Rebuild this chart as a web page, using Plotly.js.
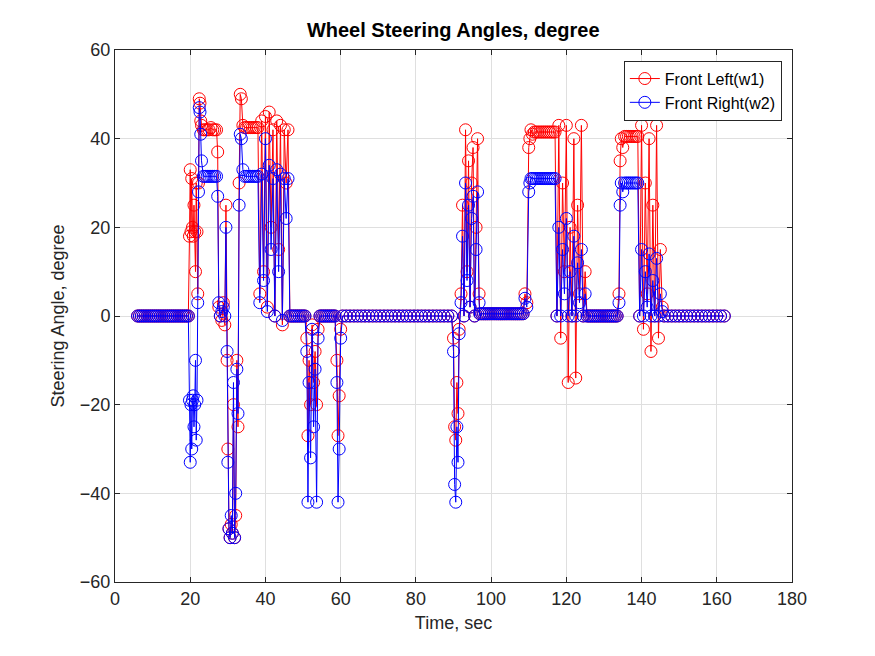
<!DOCTYPE html>
<html>
<head>
<meta charset="utf-8">
<script src="https://cdn.plot.ly/plotly-3.0.1.min.js"></script>
<style>body{margin:0;background:#fff}#chart{width:875px;height:656px}</style>
</head>
<body>
<div id="chart"></div>
<script>
// time samples (sec) and wheel angles (degree)
const timeSec = [
  6,6.5,7,7.5,8,8.5,9,9.5,10,10.5,11,11.5,12,12.5,13,13.5,14,14.5,15,15.5,16,16.5,17,17.5,18,18.5,19,19.5,
  19.8,20,20.2,20.4,20.6,20.8,21,21.2,21.4,21.6,21.8,
  22,22.2,22.4,22.6,22.8,23,
  23.5,24,24.5,25,25.5,26,26.5,27,
  27.3,27.6,28,28.4,28.8,29.2,29.5,29.8,
  30,30.3,30.6,30.9,31.2,31.5,31.8,32.1,32.4,32.7,
  33,33.3,33.6,34,
  34.5,35,35.5,36,36.5,37,37.5,38,
  38.5,39,39.5,40,40.5,41,41.5,42,42.5,43,43.5,44,44.5,45,45.5,46,
  46.5,47,47.5,48,48.5,49,49.5,50,50.5,
  51,51.3,51.6,52,52.4,52.8,53.2,53.6,54,
  54.5,55,55.5,56,56.5,57,57.5,58,58.5,
  59,59.3,59.6,60,
  60.5,61.5,62.5,63.5,64.5,65.5,66.5,67.5,68.5,69.5,70.5,71.5,72.5,73.5,74.5,75.5,76.5,77.5,78.5,79.5,80.5,81.5,82.5,83.5,84.5,85.5,86.5,87.5,88.5,89.5,
  90,90.3,90.6,90.9,91.2,91.5,
  92,92.4,92.8,93.2,93.6,94,94.4,94.8,95.2,95.6,96,96.4,96.8,
  97,97.5,98,98.5,99,99.5,100,100.5,101,101.5,102,102.5,103,103.5,104,104.5,105,105.5,106,106.5,107,107.5,108,108.5,
  109,109.5,110,110.3,110.6,111,
  111.5,112,112.5,113,113.5,114,114.5,115,115.5,116,116.5,117,
  117.5,118,118.5,119,119.5,120,120.5,121,121.5,122,122.5,123,123.5,124,124.5,125,
  125.5,126,126.5,127,127.5,128,128.5,129,129.5,130,130.5,131,131.5,132,132.5,133,133.5,
  134,134.3,134.6,135,135.5,
  136,136.5,137,137.5,138,138.5,139,
  139.5,140,140.5,141,141.5,142,142.5,143,143.5,144,144.5,145,145.5,
  146,147,148,149,150,151,152,153,154,155,156,157,158,159,160,161,162
];
const frontLeft = [
  0,0,0,0,0,0,0,0,0,0,0,0,0,0,0,0,0,0,0,0,0,0,0,0,0,0,0,0,
  18,33,19,31,20,18,25,19,10,30,19,
  5,30,49,48,44,43,
  42,42,42,42,42.5,42,42,42,
  37,2,0,-1,3,-2,25,-10,
  -30,-48,-50,-47,-49,-20,-50,-45,-10,-25,
  30,50,49,43,
  42.5,42.5,42.5,42.5,42.5,42.5,42.5,42.5,
  5,44,10,45,2,46,20,42,0,44,15,43,-2,42,30,42,
  0,0,0,0,0,0,0,0,0,
  -5,-27,-10,-20,-2,-15,-8,-20,-3,
  0,0,0,0,0,0,0,0,0,
  -10,-27,-18,-3,
  0,0,0,0,0,0,0,0,0,0,0,0,0,0,0,0,0,0,0,0,0,0,0,0,0,0,0,0,0,0,
  -5,-25,-28,-15,-22,-3,
  5,25,0,42,10,35,2,30,38,0,20,40,5,
  0.5,0.5,0.5,0.5,0.5,0.5,0.5,0.5,0.5,0.5,0.5,0.5,0.5,0.5,0.5,0.5,0.5,0.5,0.5,0.5,0.5,0.5,0.5,0.5,
  5,3,38,40,42,41,
  41.5,41.5,41.5,41.5,41.5,41.5,41.5,41.5,41.5,41.5,41.5,41.5,
  0,43,-5,30,10,43,-15,20,0,40,-14,25,5,43,0,10,
  0,0,0,0,0,0,0,0,0,0,0,0,0,0,0,0,0,
  5,35,40,38,40.5,
  40.5,40.5,40.5,40.5,40.5,40.5,40.5,
  0,43,-3,30,5,40,-8,25,0,43,-5,15,2,
  0,0,0,0,0,0,0,0,0,0,0,0,0,0,0,0,0
];
const frontRight = [
  0,0,0,0,0,0,0,0,0,0,0,0,0,0,0,0,0,0,0,0,0,0,0,0,0,0,0,0,
  -19,-33,-20,-30,-19,-18,-25,-20,-10,-28,-19,
  3,28,47,46,41,35,
  31.5,31.5,31.5,31.5,31.5,31.5,31.5,31.5,
  27,3,0,1,2,0,20,-8,
  -33,-48,-50,-45,-49,-15,-50,-40,-12,-22,
  25,41,40,33,
  31.5,31.5,31.5,31.5,31.5,31.5,31.5,31.5,
  3,32,8,40,1,34,15,31,0,33,10,32,-1,31,22,31,
  0,0,0,0,0,0,0,0,0,
  -8,-42,-15,-32,-3,-25,-12,-42,-5,
  0,0,0,0,0,0,0,0,0,
  -15,-42,-30,-5,
  0,0,0,0,0,0,0,0,0,0,0,0,0,0,0,0,0,0,0,0,0,0,0,0,0,0,0,0,0,0,
  -8,-38,-42,-25,-33,-4,
  3,18,0,30,8,25,2,22,27,0,15,28,3,
  0.5,0.5,0.5,0.5,0.5,0.5,0.5,0.5,0.5,0.5,0.5,0.5,0.5,0.5,0.5,0.5,0.5,0.5,0.5,0.5,0.5,0.5,0.5,0.5,
  4,2,28,30,31,31,
  31,31,31,31,31,31,31,31,31,31,31,31,
  0,20,0,15,5,22,0,10,0,18,0,12,3,15,0,5,
  0,0,0,0,0,0,0,0,0,0,0,0,0,0,0,0,0,
  3,25,30,28,30,
  30,30,30,30,30,30,30,
  0,15,0,10,2,14,0,8,0,13,0,5,1,
  0,0,0,0,0,0,0,0,0,0,0,0,0,0,0,0,0
];

const font = {family: 'Liberation Sans, Arial, sans-serif', size: 18, color: '#262626'};

function series(name, y, color) {
  return {
    x: timeSec, y: y, name: name, type: 'scatter', mode: 'lines+markers',
    line: {color: color, width: 1},
    marker: {symbol: 'circle-open', size: 12, color: color, line: {width: 1}}
  };
}

const axis = {
  showgrid: true, gridcolor: '#dfdfdf', zeroline: false,
  showline: true, linecolor: '#262626', mirror: 'ticks',
  ticks: 'inside', ticklen: 5, tickcolor: '#262626', tickfont: font
};

const layout = {
  width: 875, height: 656,
  margin: {l: 115, r: 83, t: 50, b: 74},
  paper_bgcolor: '#fff', plot_bgcolor: '#fff',
  title: {text: '<b>Wheel Steering Angles, degree</b>', font: {family: font.family, size: 20, color: '#000'}, x: 0.518, y: 0.965},
  xaxis: Object.assign({}, axis, {range: [0, 180], dtick: 20, title: {text: 'Time, sec', font: font, standoff: 8}}),
  yaxis: Object.assign({}, axis, {range: [-60, 60], dtick: 20, title: {text: 'Steering Angle, degree', font: font, standoff: 10}}),
  legend: {x: 0.985, y: 0.98, xanchor: 'right', yanchor: 'top', bordercolor: '#262626', borderwidth: 1,
           bgcolor: '#fff', font: {family: font.family, size: 16, color: '#000'}},
  showlegend: true
};

Plotly.newPlot('chart', [series('Front Left(w1)', frontLeft, '#ff0000'), series('Front Right(w2)', frontRight, '#0000ff')], layout, {displayModeBar: false});
</script>
</body>
</html>
